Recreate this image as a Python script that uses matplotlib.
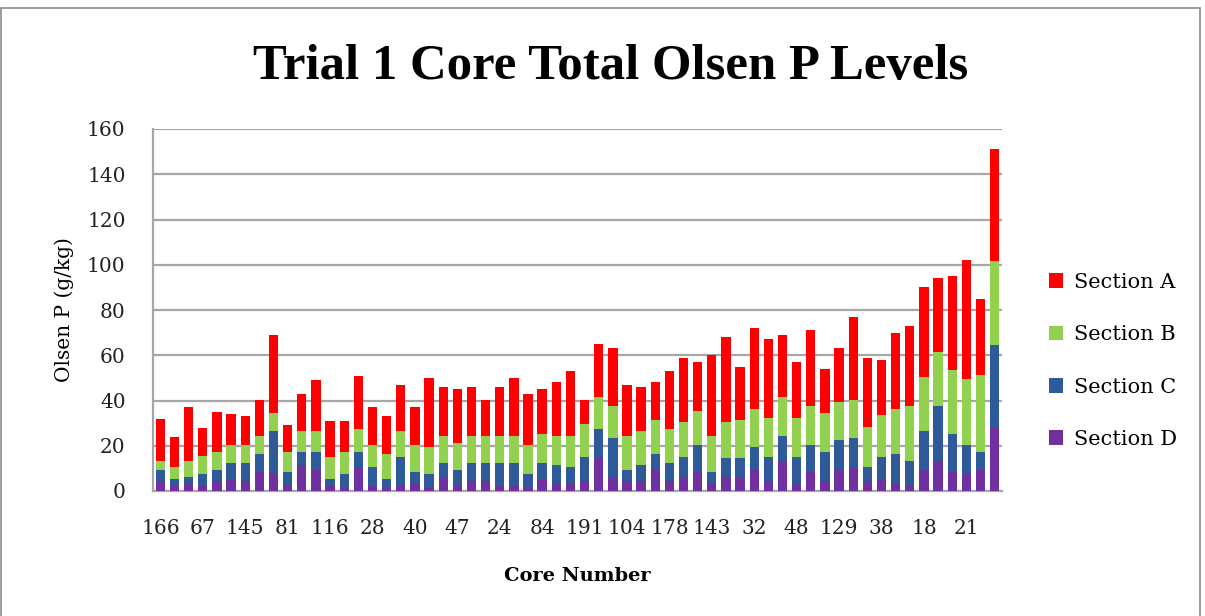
import matplotlib
matplotlib.use("Agg")
import matplotlib.pyplot as plt
import numpy as np
from matplotlib.patches import Rectangle

# ---- data ----
tick_labels = ["166", "67", "145", "81", "116", "28", "40", "47", "24", "84",
               "191", "104", "178", "143", "32", "48", "129", "38", "18", "21"]
label_every = 3

section_d = [4.4, 2.4, 3.4, 2.4, 4.4, 5.3, 4.4, 8.4, 7.4, 2.4,
             11.4, 9.3, 2.0, 1.5, 10.5, 2.4, 1.5, 2.4, 3.4, 1.5,
             6.3, 2.4, 4.4, 4.4, 2.4, 2.4, 1.5, 5.3, 3.4, 3.4,
             4.4, 14.5, 6.3, 4.4, 4.4, 9.3, 4.4, 6.3, 8.3, 3.4,
             6.3, 6.3, 9.3, 4.4, 13.4, 3.4, 8.3, 4.4, 9.3, 10.5,
             4.4, 5.3, 3.4, 2.4, 9.3, 13.4, 8.3, 7.4, 9.3, 28.5]
section_c = [4.9, 2.9, 2.9, 5.0, 4.9, 7.1, 8.0, 7.8, 19.0, 5.9,
             6.0, 8.1, 3.3, 5.9, 6.9, 8.1, 3.8, 12.8, 4.9, 5.9,
             6.1, 6.9, 8.0, 8.0, 10.0, 10.0, 5.9, 7.1, 8.0, 7.1,
             10.8, 12.9, 17.0, 4.9, 7.0, 6.9, 8.0, 8.9, 12.1, 4.9,
             8.2, 8.2, 10.2, 10.8, 11.1, 11.8, 12.1, 13.0, 13.1, 12.8,
             6.1, 9.9, 12.8, 11.0, 17.1, 24.1, 17.1, 13.0, 8.1, 36.0]
section_b = [4.1, 5.5, 7.1, 8.1, 8.1, 8.0, 8.0, 8.3, 8.0, 9.1,
             9.0, 9.0, 9.9, 10.0, 10.0, 9.9, 10.9, 11.2, 12.1, 11.9,
             12.1, 12.1, 12.1, 12.1, 12.1, 12.1, 13.0, 13.0, 13.1, 14.0,
             14.3, 14.0, 14.3, 15.2, 15.0, 15.4, 15.0, 15.3, 15.1, 16.2,
             16.0, 17.1, 16.9, 17.2, 16.9, 17.2, 17.2, 17.0, 17.1, 17.1,
             18.0, 18.3, 20.2, 24.2, 24.2, 23.9, 28.3, 29.3, 33.8, 37.1]
section_a = [18.6, 13.2, 23.6, 12.5, 17.6, 13.6, 12.6, 15.5, 34.6, 11.6,
             16.6, 22.6, 15.8, 13.6, 23.6, 16.6, 16.8, 20.6, 16.6, 30.7,
             21.5, 23.6, 21.5, 15.5, 21.5, 25.5, 22.6, 19.6, 23.5, 28.5,
             10.5, 23.6, 25.4, 22.5, 19.6, 16.4, 25.6, 28.5, 21.5, 35.5,
             37.5, 23.4, 35.6, 34.6, 27.6, 24.6, 33.4, 19.6, 23.5, 36.6,
             30.5, 24.5, 33.6, 35.4, 39.4, 32.6, 41.3, 52.3, 33.8, 49.4]

series = [("Section D", section_d, "#7030A0"),
          ("Section C", section_c, "#2F5A9A"),
          ("Section B", section_b, "#92D050"),
          ("Section A", section_a, "#FF0000")]

W, H = 1205, 616
fig = plt.figure(figsize=(W / 100, H / 100), dpi=100)
ax = fig.add_axes([153.3 / W, 1 - 491 / H, (1001.7 - 153.3) / W, (491 - 129) / H])

serif = "DejaVu Serif"
n = len(section_a)
x = np.arange(n)
bottom = np.zeros(n)
handles = {}
for name, vals, col in series:
    v = np.array(vals)
    b = ax.bar(x, v, width=0.66, bottom=bottom, color=col, label=name,
               edgecolor="none", zorder=3)
    handles[name] = b
    bottom = bottom + v

ax.set_xlim(-0.5, n - 0.5)
ax.set_ylim(0, 160)
ax.set_yticks(np.arange(0, 161, 20))
ax.yaxis.grid(True, color="#a6a6a6", linewidth=1.6, zorder=0)
ax.set_axisbelow(True)
for s in ["top", "right"]:
    ax.spines[s].set_visible(False)
for s in ["left", "bottom"]:
    ax.spines[s].set_color("#a6a6a6")
    ax.spines[s].set_linewidth(1.6)

ax.set_xticks(x[::label_every])
ax.set_xticklabels(tick_labels)
ax.tick_params(axis="x", length=0, pad=20)
ax.tick_params(axis="y", length=0, pad=20)
for lab in ax.get_xticklabels() + ax.get_yticklabels():
    lab.set_fontfamily(serif)
    lab.set_fontsize(14.5)
    lab.set_color("#222222")

ax.set_xlabel("Core Number", fontfamily=serif, fontsize=14, fontweight="bold",
              labelpad=21)
ax.set_ylabel("Olsen P (g/kg)", fontfamily=serif, fontsize=14.5, labelpad=9)

fig.text(611 / W, 1 - 67 / H, "Trial 1 Core Total Olsen P Levels",
         ha="center", va="center", fontfamily="Liberation Serif",
         fontsize=36.5, fontweight="bold")

order = ["Section A", "Section B", "Section C", "Section D"]
leg = fig.legend([handles[k] for k in order], order,
                 loc="center left", bbox_to_anchor=(1030 / W, 1 - 361 / H),
                 frameon=False, prop={"family": serif, "size": 15},
                 handlelength=0.7, handleheight=0.7, handletextpad=0.5,
                 labelspacing=1.6)

fig.patches.append(Rectangle((1 / W, -0.01), 1199 / W, 1 - 8 / H + 0.01,
                             transform=fig.transFigure, fill=False,
                             edgecolor="#8c8c8c", linewidth=1.2))

fig.savefig("out.png", dpi=100)
